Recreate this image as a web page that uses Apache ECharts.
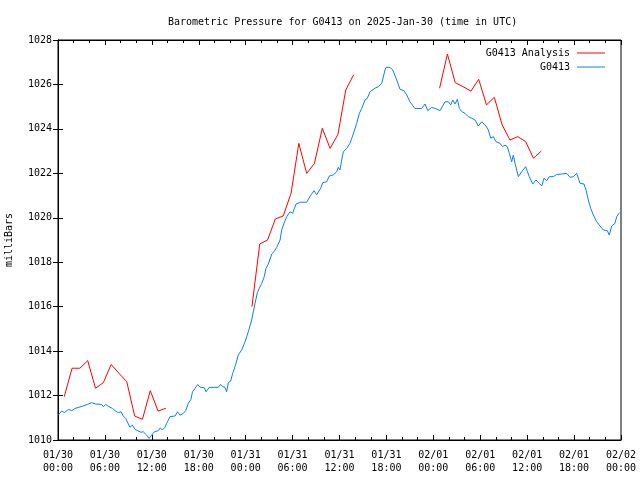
<!DOCTYPE html>
<html><head><meta charset="utf-8">
<script src="https://cdn.jsdelivr.net/npm/echarts@6/dist/echarts.min.js"></script>
<style>html,body{margin:0;padding:0;background:#fff}#c{width:640px;height:480px}</style>
</head><body><div id="c"></div>
<script>
// hours since 2025-01-30 00:00 UTC
var xTickLabels = ['01/30\n00:00','01/30\n06:00','01/30\n12:00','01/30\n18:00','01/31\n00:00','01/31\n06:00','01/31\n12:00','01/31\n18:00','02/01\n00:00','02/01\n06:00','02/01\n12:00','02/01\n18:00','02/02\n00:00'];
var seriesNames = ['G0413 Analysis', 'G0413'];

var analysisHours = [0.8,1.8,2.8,3.8,4.8,5.8,6.8,7.8,8.8,9.8,10.8,11.8,12.8,13.8,
  14.8,15.8,16.8,17.8,18.8,19.8,20.8,21.8,22.8,23.8,
  24.8,25.8,26.8,27.8,28.8,29.8,30.8,31.8,32.8,33.8,34.8,35.8,36.8,37.8,
  38.8,39.8,40.8,41.8,42.8,43.8,44.8,45.8,46.8,47.8,
  48.8,49.8,50.8,51.8,52.8,53.8,54.8,55.8,56.8,57.8,58.8,59.8,60.8,61.8];
var analysisValues = [1011.95,1013.23,1013.23,1013.57,1012.33,1012.58,1013.4,1013.0,1012.62,1011.08,1010.93,1012.22,1011.3,1011.43,
  null,null,null,null,null,null,null,null,null,null,
  1016.0,1018.82,1019.0,1019.95,1020.08,1021.1,1023.35,1022.0,1022.45,1024.03,1023.12,1023.75,1025.75,1026.43,
  null,null,null,null,null,null,null,null,null,null,
  1025.83,1027.37,1026.08,1025.9,1025.7,1026.23,1025.08,1025.42,1024.18,1023.5,1023.65,1023.43,1022.68,1023.0];

var obsHours = [0.04,0.47,0.81,1.32,1.75,2.17,2.94,3.75,4.3,4.52,4.82,5.58,5.8,6.1,6.52,6.95,7.38,7.71,8.06,8.35,8.66,8.9,9.2,9.5,9.85,10.19,10.6,10.9,11.34,11.64,11.98,12.32,12.83,13.08,13.34,13.68,13.9,14.32,14.96,15.3,15.6,16.03,16.33,16.67,17.0,17.2,17.52,17.87,18.16,18.71,18.93,19.1,19.35,20.5,20.8,21.06,21.36,21.57,21.78,22.08,22.34,22.64,23.06,23.49,23.92,24.34,24.77,24.98,25.2,25.49,25.75,26.05,26.35,26.6,26.9,27.1,27.33,27.62,27.97,28.4,28.61,28.9,29.25,29.67,30.0,30.44,31.04,31.8,32.3,32.74,33.08,33.6,33.85,34.36,34.7,35.21,35.64,35.85,36.06,36.28,36.49,36.92,37.34,37.56,37.86,38.2,38.54,38.84,39.26,39.55,39.9,40.54,40.96,41.4,41.82,41.95,42.46,42.8,43.32,43.74,44.25,44.6,45.0,45.65,46.5,46.94,47.28,47.79,48.22,48.43,48.85,49.5,49.92,50.23,50.49,50.78,51.07,51.33,51.63,52.05,52.47,52.9,53.33,53.75,54.19,54.74,55.03,55.34,55.67,56.0,56.52,56.86,57.17,57.46,57.72,58.02,58.23,58.45,58.87,59.3,59.8,60.27,60.71,61.13,61.55,61.86,62.16,62.5,62.83,63.34,63.77,64.41,65.06,65.48,65.9,66.33,66.76,67.27,67.53,67.82,68.12,68.46,68.9,69.32,69.74,70.25,70.5,70.81,71.23,71.45,71.8];
var obsValues = [1011.12,1011.31,1011.23,1011.38,1011.32,1011.42,1011.5,1011.6,1011.68,1011.77,1011.62,1011.6,1011.5,1011.6,1011.5,1011.42,1011.3,1011.23,1011.27,1011.08,1010.97,1010.95,1010.57,1010.67,1010.48,1010.42,1010.35,1010.37,1010.22,1010.07,1010.22,1010.37,1010.42,1010.55,1010.45,1010.57,1010.75,1011.05,1011.08,1011.27,1011.12,1011.2,1011.32,1011.65,1011.83,1012.17,1012.32,1012.5,1012.38,1012.35,1012.17,1012.1,1012.37,1012.37,1012.5,1012.4,1012.37,1012.17,1012.58,1012.65,1013.0,1013.3,1013.83,1014.05,1014.42,1014.87,1015.4,1015.77,1016.15,1016.63,1016.83,1017.05,1017.32,1017.72,1017.92,1017.92,1018.37,1018.47,1018.67,1019.0,1019.45,1019.75,1020.05,1020.27,1020.2,1020.62,1020.7,1020.7,1021.0,1021.22,1021.03,1021.33,1021.58,1021.62,1021.88,1021.93,1022.07,1022.27,1022.15,1022.6,1022.97,1023.12,1023.35,1023.57,1023.87,1024.25,1024.7,1024.92,1025.3,1025.37,1025.67,1025.83,1025.9,1026.05,1026.65,1026.77,1026.77,1026.65,1026.2,1025.78,1025.72,1025.53,1025.22,1024.92,1024.92,1025.12,1024.82,1024.97,1024.92,1024.85,1024.82,1025.22,1025.22,1025.08,1025.3,1025.12,1025.33,1024.92,1024.78,1024.7,1024.55,1024.48,1024.4,1024.13,1024.32,1024.13,1023.95,1023.58,1023.65,1023.43,1023.35,1023.2,1023.27,1023.2,1022.9,1022.52,1022.82,1022.45,1021.85,1022.07,1022.3,1021.85,1021.52,1021.7,1021.55,1021.43,1021.78,1021.67,1021.85,1021.85,1021.95,1021.97,1022.0,1021.82,1021.85,1022.0,1021.55,1021.52,1021.25,1020.8,1020.43,1020.13,1019.82,1019.63,1019.45,1019.42,1019.22,1019.63,1019.75,1020.05,1020.23];

var FONT = 'DejaVu Sans Mono';
function pairs(xs, ys){ var out=[]; for(var i=0;i<xs.length;i++) out.push([xs[i], ys[i]===null?'-':ys[i]]); return out; }

var chart = echarts.init(document.getElementById('c'), null, {renderer:'canvas'});
var xBase = {
  type:'value', min:0, max:72, interval:6,
  axisLine:{show:true, lineStyle:{color:'#000', width:1}},
  axisTick:{show:true, inside:true, length:5, lineStyle:{color:'#000'}},
  minorTick:{show:true, splitNumber:3, length:3, lineStyle:{color:'#000'}},
  splitLine:{show:false}, minorSplitLine:{show:false}
};
var yBase = {
  type:'value', min:1010, max:1028, interval:2,
  axisLine:{show:true, lineStyle:{color:'#000', width:1}},
  axisTick:{show:true, inside:true, length:5, lineStyle:{color:'#000'}},
  splitLine:{show:false}
};
chart.setOption({
  animation:false,
  backgroundColor:'#fff',
  title:{text:'Barometric Pressure for G0413 on 2025-Jan-30 (time in UTC)', left:163, top:12,
    textStyle:{fontFamily:FONT, fontSize:10, fontWeight:'normal', color:'#000'}},
  legend:[
    {data:[seriesNames[0]], orient:'vertical', right:30, top:43, align:'right', icon:'rect', itemWidth:28, itemHeight:1, itemGap:4,
      textStyle:{fontFamily:FONT, fontSize:10, color:'#000', padding:[0,2,0,0]}},
    {data:[seriesNames[1]], orient:'vertical', right:30, top:57, align:'right', icon:'rect', itemWidth:28, itemHeight:1, itemGap:4,
      textStyle:{fontFamily:FONT, fontSize:10, color:'#000', padding:[0,2,0,0]}}
  ],
  grid:{left:58, right:19, top:40, bottom:40, containLabel:false, outerBoundsMode:'none', show:true, borderColor:'#000', borderWidth:1, backgroundColor:'transparent'},
  xAxis:[
    Object.assign({}, xBase, {position:'bottom',
      axisLabel:{show:true, fontFamily:FONT, fontSize:10, color:'#000', margin:9, lineHeight:13,
        formatter:function(v){ var i=Math.round(v/6); return xTickLabels[i]||''; }}}),
    Object.assign({}, xBase, {position:'top', axisLabel:{show:false}})
  ],
  yAxis:[
    Object.assign({}, yBase, {position:'left', name:'milliBars', nameLocation:'middle', nameGap:44, nameRotate:90,
      nameTextStyle:{fontFamily:FONT, fontSize:10, color:'#000'},
      axisLabel:{show:true, fontFamily:FONT, fontSize:10, color:'#000', margin:6,
        formatter:function(v){ return String(v); }}}),
    Object.assign({}, yBase, {position:'right', axisLabel:{show:false}})
  ],
  series:[
    {name:seriesNames[0], type:'line', xAxisIndex:0, yAxisIndex:0, data:pairs(analysisHours, analysisValues),
      showSymbol:false, symbol:'none', connectNulls:false, lineStyle:{color:'#ff0000', width:1}, itemStyle:{color:'#ff0000'}},
    {name:seriesNames[1], type:'line', xAxisIndex:0, yAxisIndex:0, data:pairs(obsHours, obsValues),
      showSymbol:false, symbol:'none', lineStyle:{color:'#0a80f0', width:1}, itemStyle:{color:'#0a80f0'}}
  ]
});
</script></body></html>
